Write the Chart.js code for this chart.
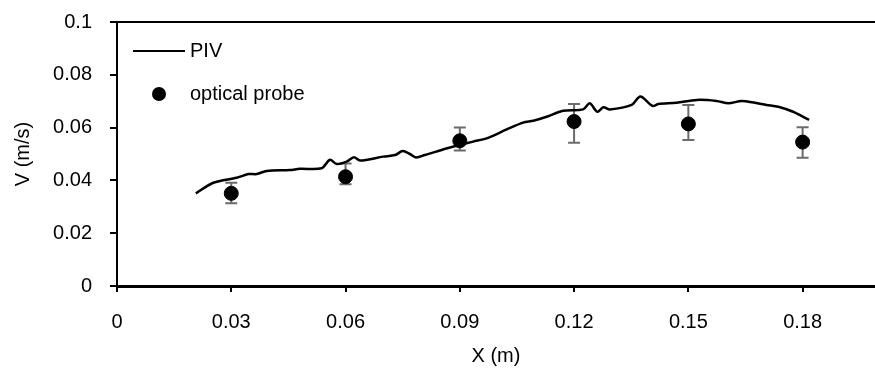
<!DOCTYPE html>
<html>
<head>
<meta charset="utf-8">
<script src="https://cdn.jsdelivr.net/npm/chart.js@4.4.1/dist/chart.umd.min.js"></script>
<style>
    html, body { margin: 0; padding: 0; background: #fff; }
    #wrap { width: 875px; height: 371px; }
</style>
</head>
<body>
<div id="wrap"><canvas id="velocityChart"></canvas></div>
<script>
// PIV profile (x in m, V in m/s)
const pivX = [0.0207, 0.0253, 0.0314, 0.0345, 0.0367, 0.0393, 0.0454, 0.0480, 0.0537, 0.0559,
    0.0577, 0.0603, 0.0622, 0.0638, 0.0699, 0.0730, 0.0750, 0.0769, 0.0785, 0.0808,
    0.0865, 0.0900, 0.0935, 0.0970, 0.1023, 0.1066, 0.1093, 0.1128, 0.1171, 0.1224,
    0.1241, 0.1261, 0.1277, 0.1294, 0.1351, 0.1374, 0.1406, 0.1421, 0.1469, 0.1522,
    0.1574, 0.1605, 0.1640, 0.1675, 0.1705, 0.1736, 0.1775, 0.1817];
const pivV = [0.0351, 0.0391, 0.0410, 0.0424, 0.0424, 0.0436, 0.0439, 0.0444, 0.0446, 0.0478,
    0.0462, 0.0471, 0.0488, 0.0475, 0.0490, 0.0496, 0.0511, 0.0500, 0.0487, 0.0496,
    0.0521, 0.0534, 0.0547, 0.0559, 0.0593, 0.0619, 0.0626, 0.0641, 0.0664, 0.0669,
    0.0692, 0.0660, 0.0677, 0.0669, 0.0686, 0.0718, 0.0682, 0.0689, 0.0694, 0.0705,
    0.0701, 0.0692, 0.0701, 0.0694, 0.0686, 0.0679, 0.0660, 0.0629];

// optical probe measurements with asymmetric error bars
const probeX = [0.03, 0.06, 0.09, 0.12, 0.15, 0.18];
const probeV = [0.0351, 0.0414, 0.0550, 0.0623, 0.0614, 0.0545];
const probeErrUp = [0.0040, 0.0050, 0.0050, 0.0066, 0.0072, 0.0056];
const probeErrDown = [0.0038, 0.0029, 0.0037, 0.0080, 0.0061, 0.0059];

// axis ticks
const xTicks = [0, 0.03, 0.06, 0.09, 0.12, 0.15, 0.18];
const xTickLabels = ['0', '0.03', '0.06', '0.09', '0.12', '0.15', '0.18'];
const yTicks = [0, 0.02, 0.04, 0.06, 0.08, 0.1];
const yTickLabels = ['0', '0.02', '0.04', '0.06', '0.08', '0.1'];

const FONT = '"Liberation Sans", Arial, sans-serif';

const errorBars = {
    id: 'errorBars',
    beforeDatasetsDraw(chart) {
        const ctx = chart.ctx;
        const xs = chart.scales.x, ys = chart.scales.y;
        ctx.save();
        ctx.strokeStyle = '#6b6b6b';
        ctx.lineWidth = 2;
        probeX.forEach((x, i) => {
            const px = xs.getPixelForValue(x);
            const top = ys.getPixelForValue(probeV[i] + probeErrUp[i]);
            const bot = ys.getPixelForValue(probeV[i] - probeErrDown[i]);
            ctx.beginPath();
            ctx.moveTo(px, top); ctx.lineTo(px, bot);
            ctx.moveTo(px - 6, top); ctx.lineTo(px + 6, top);
            ctx.moveTo(px - 6, bot); ctx.lineTo(px + 6, bot);
            ctx.stroke();
        });
        ctx.restore();
    }
};

const insideLegend = {
    id: 'insideLegend',
    afterDraw(chart) {
        const ctx = chart.ctx;
        const a = chart.chartArea;
        ctx.save();
        ctx.font = '20px ' + FONT;
        ctx.fillStyle = '#000';
        ctx.textBaseline = 'middle';
        // PIV
        ctx.strokeStyle = '#000';
        ctx.lineWidth = 2;
        ctx.beginPath();
        ctx.moveTo(a.left + 16, a.top + 29);
        ctx.lineTo(a.left + 68, a.top + 29);
        ctx.stroke();
        ctx.fillText('PIV', a.left + 73, a.top + 29);
        // optical probe
        ctx.beginPath();
        ctx.arc(a.left + 42, a.top + 72, 7, 0, Math.PI * 2);
        ctx.fill();
        ctx.fillText('optical probe', a.left + 73, a.top + 72);
        ctx.restore();
    }
};

const ctx = document.getElementById('velocityChart').getContext('2d');
new Chart(ctx, {
    type: 'scatter',
    data: {
        datasets: [{
            label: 'PIV',
            type: 'line',
            data: pivX.map((x, i) => ({ x: x, y: pivV[i] })),
            borderColor: '#000',
            borderWidth: 2.5,
            pointRadius: 0,
            tension: 0.3,
            fill: false,
            order: 2
        }, {
            label: 'optical probe',
            data: probeX.map((x, i) => ({ x: x, y: probeV[i] })),
            backgroundColor: '#000',
            borderColor: '#000',
            pointRadius: 7,
            order: 1
        }]
    },
    options: {
        responsive: true,
        maintainAspectRatio: false,
        animation: false,
        layout: { autoPadding: false, padding: { top: 22, right: 0, left: 0, bottom: 0 } },
        plugins: {
            legend: { display: false },
            tooltip: { enabled: false }
        },
        scales: {
            x: {
                type: 'linear',
                min: 0,
                max: 0.199,
                afterBuildTicks: s => { s.ticks = xTicks.map(v => ({ value: v })); },
                afterFit: s => { s.height = 85; s.paddingLeft = 0; s.paddingRight = 0; },
                ticks: {
                    color: '#000',
                    font: { family: FONT, size: 20 },
                    padding: 18,
                    maxRotation: 0,
                    callback: (v, i) => xTickLabels[i]
                },
                grid: { drawOnChartArea: false, tickLength: 6, tickColor: '#000', lineWidth: 2 },
                border: { color: '#000', width: 3 },
                title: {
                    display: true,
                    text: 'X (m)',
                    color: '#000',
                    font: { family: FONT, size: 20 },
                    padding: { top: 0, bottom: 3 }
                }
            },
            y: {
                type: 'linear',
                min: 0,
                max: 0.1,
                afterBuildTicks: s => { s.ticks = yTicks.map(v => ({ value: v })); },
                afterFit: s => { s.width = 117; s.paddingTop = 0; s.paddingBottom = 0; },
                ticks: {
                    color: '#000',
                    font: { family: FONT, size: 20 },
                    padding: 18,
                    callback: (v, i) => yTickLabels[i]
                },
                grid: {
                    color: c => (c.tick && c.tick.value === 0.1) ? '#000' : 'rgba(0,0,0,0)',
                    tickColor: '#000',
                    tickLength: 7,
                    lineWidth: 2
                },
                border: { color: '#000', width: 2 },
                title: {
                    display: true,
                    text: 'V (m/s)',
                    color: '#000',
                    font: { family: FONT, size: 20 },
                    padding: { top: 11, bottom: 0 }
                }
            }
        }
    },
    plugins: [errorBars, insideLegend]
});
</script>
</body>
</html>
